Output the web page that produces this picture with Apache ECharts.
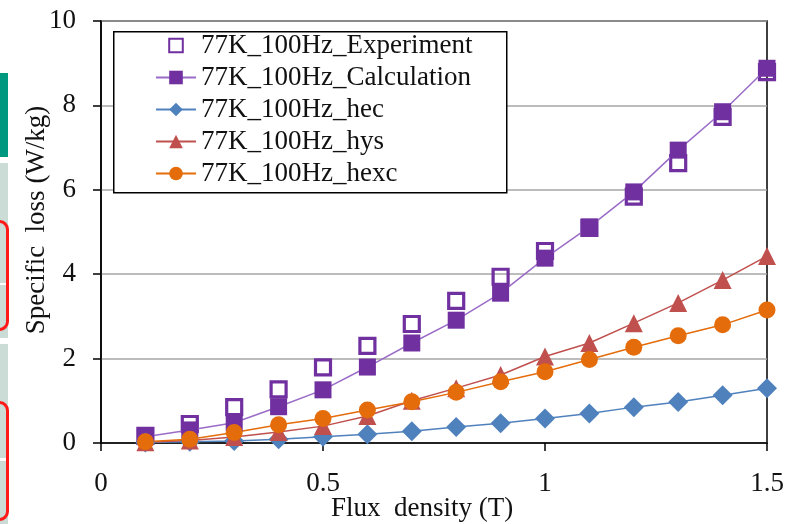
<!DOCTYPE html>
<html>
<head>
<meta charset="utf-8">
<script src="https://cdn.jsdelivr.net/npm/echarts@6/dist/echarts.min.js"></script>
<style>
  html, body { margin: 0; padding: 0; background: #fff; }
  #chart { width: 792px; height: 524px; }
</style>
</head>
<body>
<div id="chart"></div>
<script>
// Flux density steps (T)
const fluxDensity = [0.1, 0.2, 0.3, 0.4, 0.5, 0.6, 0.7, 0.8, 0.9, 1.0, 1.1, 1.2, 1.3, 1.4, 1.5];

// Specific loss (W/kg) at 77 K, 100 Hz
const experiment  = [0.17, 0.45, 0.85, 1.27, 1.79, 2.30, 2.82, 3.37, 3.94, 4.55, 5.10, 5.84, 6.63, 7.73, 8.79];
const calculation = [0.15, 0.31, 0.48, 0.86, 1.26, 1.80, 2.37, 2.91, 3.55, 4.38, 5.12, 5.95, 6.94, 7.85, 8.88];
const hec         = [0.01, 0.03, 0.05, 0.09, 0.15, 0.21, 0.28, 0.38, 0.47, 0.58, 0.70, 0.85, 0.97, 1.13, 1.30];
const hys         = [0.02, 0.06, 0.14, 0.26, 0.40, 0.64, 1.00, 1.30, 1.61, 2.05, 2.37, 2.84, 3.32, 3.86, 4.43];
const hexc        = [0.03, 0.09, 0.25, 0.43, 0.58, 0.78, 0.98, 1.20, 1.45, 1.69, 1.98, 2.27, 2.54, 2.80, 3.15];

const seriesNames = [
  '77K_100Hz_Experiment',
  '77K_100Hz_Calculation',
  '77K_100Hz_hec',
  '77K_100Hz_hys',
  '77K_100Hz_hexc'
];

const xTicks = { min: 0, max: 1.5, interval: 0.5 };
const yTicks = { min: 0, max: 10, interval: 2 };

const FONT = '"Liberation Serif", "Times New Roman", serif';
const TEXT = '#111111';
const FS = 27;

const pairs = (ys) => fluxDensity.map((x, i) => [x, ys[i]]);

const chart = echarts.init(document.getElementById('chart'), null, { renderer: 'canvas' });

function lineSeries(name, data, color, symbol, size, lineColor) {
  return {
    name: name,
    type: 'line',
    data: pairs(data),
    symbol: symbol,
    symbolSize: size,
    showSymbol: true,
    lineStyle: { color: lineColor || color, width: 1.5 },
    itemStyle: { color: color, borderWidth: 0 },
    emphasis: { disabled: true },
    animation: false
  };
}

chart.setOption({
  backgroundColor: '#ffffff',
  animation: false,
  grid: {
    left: 101, right: 25, top: 21, bottom: 81,
    containLabel: false,
    outerBoundsMode: 'none',
    show: true, borderColor: '#000', borderWidth: 1.5, backgroundColor: 'transparent'
  },
  xAxis: {
    type: 'value',
    min: xTicks.min, max: xTicks.max, interval: xTicks.interval,
    name: 'Flux  density (T)',
    nameLocation: 'middle',
    nameGap: 52,
    nameMoveOverlap: false,
    nameTextStyle: { fontFamily: FONT, fontSize: FS, color: TEXT, padding: [0, 24, 0, 0] },
    axisLine: { show: true, onZero: false, lineStyle: { color: '#000', width: 1.5 } },
    axisTick: { show: true, inside: false, length: 8, lineStyle: { color: '#000', width: 1.5 } },
    axisLabel: { fontFamily: FONT, fontSize: FS, color: TEXT, margin: 27 },
    splitLine: { show: false }
  },
  yAxis: {
    type: 'value',
    min: yTicks.min, max: yTicks.max, interval: yTicks.interval,
    name: 'Specific  loss (W/kg)',
    nameLocation: 'middle',
    nameGap: 51,
    nameMoveOverlap: false,
    nameRotate: 90,
    nameTextStyle: { fontFamily: FONT, fontSize: FS, color: TEXT, padding: [0, 0, 0, 24] },
    axisLine: { show: true, lineStyle: { color: '#000', width: 1.5 } },
    axisTick: { show: true, inside: false, length: 8, lineStyle: { color: '#000', width: 1.5 } },
    axisLabel: { fontFamily: FONT, fontSize: FS, color: TEXT, margin: 25 },
    splitLine: { show: true, lineStyle: { color: '#a6a6a6', width: 1.5 } }
  },
  legend: {
    orient: 'vertical',
    left: 155, top: 32,
    padding: 0,
    itemGap: 5,
    itemWidth: 40,
    itemHeight: 17,
    data: seriesNames,
    textStyle: { fontFamily: FONT, fontSize: FS, color: TEXT, lineHeight: 27 },
    z: 20
  },
  graphic: [
    // legend frame
    { type: 'rect', left: 113, top: 31, z: 15,
      shape: { width: 393, height: 161 },
      style: { fill: '#fff', stroke: '#000', lineWidth: 1.5 } },
    // slide strip along the left edge
    { type: 'rect', left: 0, top: 73, shape: { width: 8, height: 84 }, style: { fill: '#00987f' } },
    { type: 'rect', left: 0, top: 163, shape: { width: 8, height: 120 }, style: { fill: '#cbdcd7' } },
    { type: 'rect', left: 0, top: 285, shape: { width: 8, height: 53 }, style: { fill: '#cbdcd7' } },
    { type: 'rect', left: 0, top: 344, shape: { width: 8, height: 114 }, style: { fill: '#cbdcd7' } },
    { type: 'rect', left: 0, top: 461, shape: { width: 8, height: 63 }, style: { fill: '#cbdcd7' } },
    { type: 'rect', left: -14, top: 220, shape: { width: 20, height: 108, r: 8 },
      style: { fill: 'transparent', stroke: '#ff1a1a', lineWidth: 3 } },
    { type: 'rect', left: -14, top: 401, shape: { width: 20, height: 117, r: 8 },
      style: { fill: 'transparent', stroke: '#ff1a1a', lineWidth: 3 } }
  ],
  series: [
    {
      // measured points: hollow markers, no connecting line
      name: seriesNames[0],
      type: 'line',
      data: pairs(experiment),
      symbol: 'rect',
      symbolSize: 15,
      showSymbol: true,
      lineStyle: { width: 0, opacity: 0 },
      itemStyle: { color: 'rgba(255,255,255,0)', borderColor: '#7030a0', borderWidth: 3.2 },
      emphasis: { disabled: true },
      z: 2
    },
    lineSeries(seriesNames[1], calculation, '#7030a0', 'rect', 17, '#9a6cc8'),
    lineSeries(seriesNames[2], hec, '#4f81bd', 'diamond', 20),
    lineSeries(seriesNames[3], hys, '#c0504d', 'triangle', 18),
    lineSeries(seriesNames[4], hexc, '#e46c0a', 'circle', 17)
  ]
});
</script>
</body>
</html>
